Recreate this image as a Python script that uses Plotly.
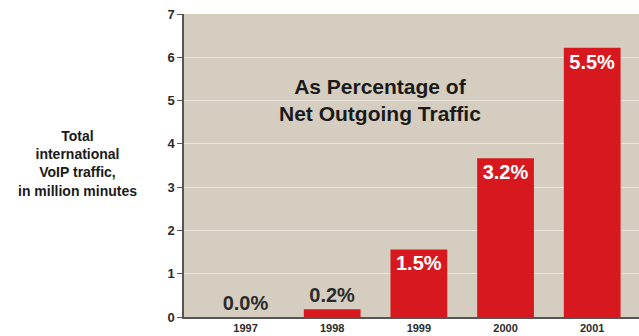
import plotly.graph_objects as go

# International VoIP traffic by year
years = ["1997", "1998", "1999", "2000", "2001"]
minutes_millions = [0.0, 0.18, 1.56, 3.67, 6.22]
share_of_outgoing = ["0.0%", "0.2%", "1.5%", "3.2%", "5.5%"]
label_positions = ["outside", "outside", "inside", "inside", "inside"]

y_ticks = [0, 1, 2, 3, 4, 5, 6, 7]

FONT = "Liberation Sans, Arial, sans-serif"
INK = "#2b2b2b"

fig = go.Figure(
    go.Bar(
        x=years,
        y=minutes_millions,
        text=[f"<b>{s}</b>" for s in share_of_outgoing],
        textposition=label_positions,
        insidetextanchor="end",
        insidetextfont=dict(family=FONT, size=20, color="white"),
        outsidetextfont=dict(family=FONT, size=20, color=INK),
        constraintext="none",
        cliponaxis=False,
        marker=dict(color="#d7191f", line=dict(width=0)),
        hoverinfo="skip",
    )
)

fig.update_layout(
    width=639,
    height=336,
    margin=dict(l=184, r=0, t=14, b=19),
    paper_bgcolor="white",
    plot_bgcolor="#d5cdc0",
    bargap=0.345,
    showlegend=False,
    font=dict(family=FONT, color=INK),
    xaxis=dict(
        type="category",
        range=[-0.71, 4.54],
        tickvals=years,
        ticktext=[f"<b>{y}</b>" for y in years],
        showline=True,
        linecolor="#555555",
        linewidth=1.5,
        ticks="",
        showgrid=False,
        tickfont=dict(family=FONT, size=11, color=INK),
        fixedrange=True,
    ),
    yaxis=dict(
        range=[0, 7],
        tickvals=y_ticks,
        ticktext=[f"<b>{v}</b>" for v in y_ticks],
        showline=True,
        linecolor="#555555",
        linewidth=1.5,
        ticks="outside",
        ticklen=5,
        tickcolor="#555555",
        showgrid=True,
        gridcolor="#ece7de",
        gridwidth=1,
        zeroline=False,
        tickfont=dict(family=FONT, size=13, color=INK),
        fixedrange=True,
    ),
    annotations=[
        dict(
            text="<b>As Percentage of<br>Net Outgoing Traffic</b>",
            xref="paper", yref="paper",
            x=0.43, y=0.716,
            xanchor="center", yanchor="middle",
            showarrow=False,
            font=dict(family=FONT, size=21, color="#1a1a1a"),
        ),
        dict(
            text="<b>Total<br>international<br>VoIP traffic,<br>in million minutes</b>",
            xref="paper", yref="paper",
            x=-0.235, y=0.505,
            xanchor="center", yanchor="middle",
            showarrow=False,
            font=dict(family=FONT, size=14, color="#1a1a1a"),
        ),
    ],
)

fig.write_html("out.html")
